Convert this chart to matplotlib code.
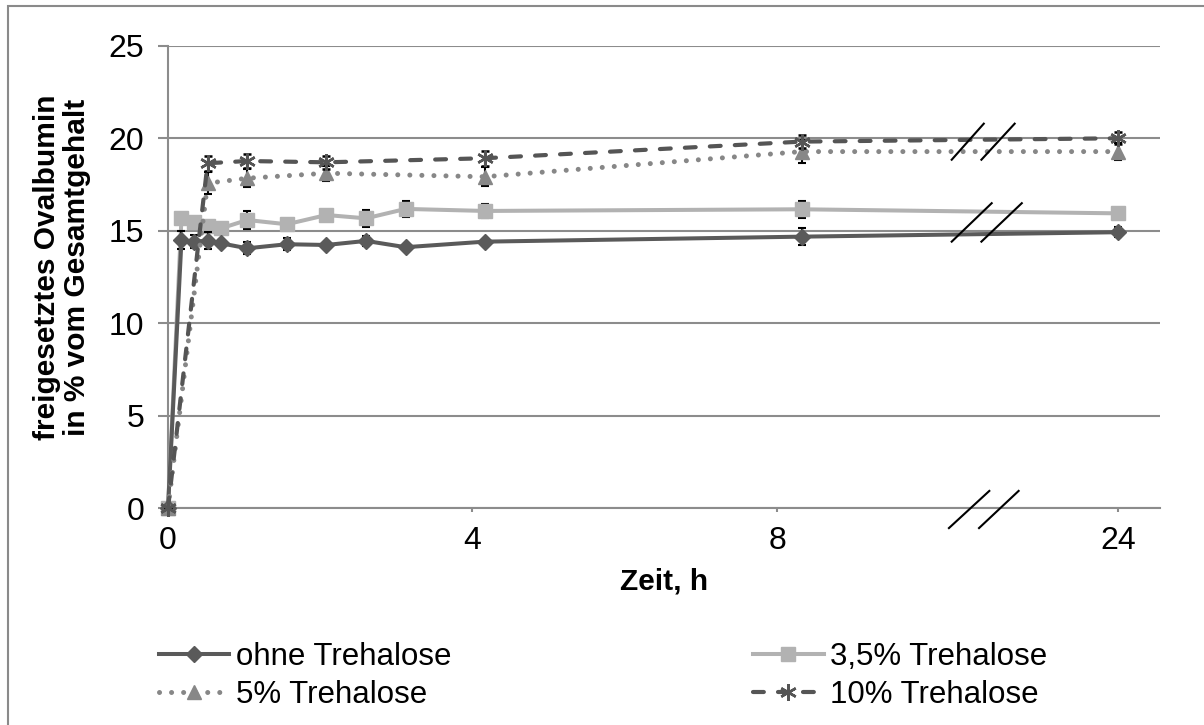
import numpy as np
import matplotlib.pyplot as plt
from matplotlib.lines import Line2D

plt.rcParams['font.family'] = ['Liberation Sans', 'DejaVu Sans']

# Zeitpunkte in h
t_a = [0, 0.17, 0.33, 0.5, 0.67, 1, 1.5, 2, 2.5, 3, 4, 8, 24]
t_b = [0, 0.5, 1, 2, 4, 8, 24]

# freigesetztes Ovalbumin in %
ohne = [0, 14.5, 14.42, 14.47, 14.33, 14.06, 14.28, 14.24, 14.46, 14.12, 14.42, 14.69, 14.93]
ohne_err = [0, 0.48, 0.36, 0.47, 0.2, 0.33, 0.33, 0.1, 0.29, 0.1, 0.1, 0.45, 0.27]
tre35 = [0, 15.68, 15.5, 15.27, 15.14, 15.59, 15.36, 15.86, 15.68, 16.19, 16.08, 16.17, 15.95]
tre35_err = [0, 0.1, 0.1, 0.1, 0.1, 0.47, 0.1, 0.1, 0.47, 0.44, 0.4, 0.45, 0.1]
tre5 = [0, 17.58, 17.85, 18.12, 17.93, 19.29, 19.29]
tre5_err = [0, 0.6, 0.5, 0.4, 0.5, 0.6, 0.45]
tre10 = [0, 18.66, 18.78, 18.71, 18.93, 19.83, 20.01]
tre10_err = [0, 0.4, 0.4, 0.36, 0.41, 0.36, 0.33]

xtick_labels = ['0', '4', '8', '24']
yticks = [0, 5, 10, 15, 20, 25]


def pos(t):
    # Achsenbruch zwischen 8 und 24 h
    t = np.asarray(t, dtype=float)
    return np.where(t <= 8, t, 8 + (t - 8) / 4)


fig = plt.figure(figsize=(12.04, 7.25), dpi=100)
ax = fig.add_axes([168 / 1204, 1 - 508.3 / 725, 992 / 1204, 462.3 / 725])

# Rahmen des Diagrammbereichs
fig.add_artist(plt.Rectangle((8 / 1204, -0.1), 1.2, 1 - 6 / 725 + 0.1, transform=fig.transFigure,
                             fill=False, edgecolor='#8a8a8a', linewidth=1.5))

ax.set_xlim(0, 12.525)
ax.set_ylim(0, 25)
ax.set_yticks(yticks)
ax.set_xticks([0, 3.84, 7.69, 12])
ax.set_xticklabels(xtick_labels)
ax.yaxis.grid(True, color='#8c8c8c', linewidth=1.5)
ax.set_axisbelow(True)
for s in ['top', 'right']:
    ax.spines[s].set_visible(False)
for s in ['left', 'bottom']:
    ax.spines[s].set_color('#8c8c8c')
    ax.spines[s].set_linewidth(1.5)
ax.tick_params(axis='y', length=7, width=1.5, color='#8c8c8c', labelsize=23, pad=10)
ax.tick_params(axis='x', length=3, width=1.5, color='#8c8c8c', labelsize=23, pad=10)

err_kw = dict(ecolor='black', elinewidth=1.5, capsize=3, capthick=1.5)

styles = {
    'ohne Trehalose': dict(color='#5a5a5a', lw=2.9, marker='D', ms=8),
    '3,5% Trehalose': dict(color='#b2b2b2', lw=2.9, marker='s', ms=10),
    '5% Trehalose': dict(color='#878787', lw=3.6, marker='^', ms=10,
                         linestyle=(0, (0.01, 2.4)), dash_capstyle='round'),
    '10% Trehalose': dict(color='#555555', lw=3.0, marker=(6, 2, 0), ms=12, mew=1.8,
                          linestyle=(0, (2.6, 3.4)), dash_capstyle='round'),
}

ax.errorbar(pos(t_a), ohne, yerr=ohne_err, clip_on=False, zorder=4,
            **styles['ohne Trehalose'], **err_kw)
ax.errorbar(pos(t_a), tre35, yerr=tre35_err, clip_on=False, zorder=3,
            **styles['3,5% Trehalose'], **err_kw)
ax.errorbar(pos(t_b), tre5, yerr=tre5_err, clip_on=False, zorder=5,
            **styles['5% Trehalose'], **err_kw)
ax.errorbar(pos(t_b), tre10, yerr=tre10_err, clip_on=False, zorder=6,
            **styles['10% Trehalose'], **err_kw)

# Bruchzeichen
breaks = [
    ((9.895, 10.30), (18.85, 20.8)), ((10.27, 10.69), (18.85, 20.8)),
    ((9.895, 10.40), (14.42, 16.5)), ((10.27, 10.78), (14.42, 16.5)),
    ((9.86, 10.37), (-1.07, 0.94)), ((10.24, 10.74), (-1.07, 0.94)),
]
for xs, ys in breaks:
    ax.add_line(Line2D(xs, ys, color='black', lw=1.5, clip_on=False, zorder=7))

fig.text(664 / 1204, 1 - 582 / 725, 'Zeit, h', ha='center', va='center',
         fontsize=21.5, fontweight='bold')
fig.text(62 / 1204, 1 - 267 / 725, 'freigesetztes Ovalbumin\nin % vom Gesamtgehalt',
         ha='center', va='center', rotation=90, fontsize=21.5, fontweight='bold',
         multialignment='center', linespacing=1.05)

order = ['ohne Trehalose', '5% Trehalose', '3,5% Trehalose', '10% Trehalose']
handles = [Line2D([], [], **styles[k]) for k in order]
fig.legend(handles, order, ncol=2, loc='center left', bbox_to_anchor=(159 / 1204, 1 - 676 / 725),
           frameon=False, fontsize=22.5, handlelength=2.25, handletextpad=0.2,
           columnspacing=9.67, labelspacing=0.25, numpoints=1, borderaxespad=0, borderpad=0)

fig.savefig('out.png', dpi=100)
